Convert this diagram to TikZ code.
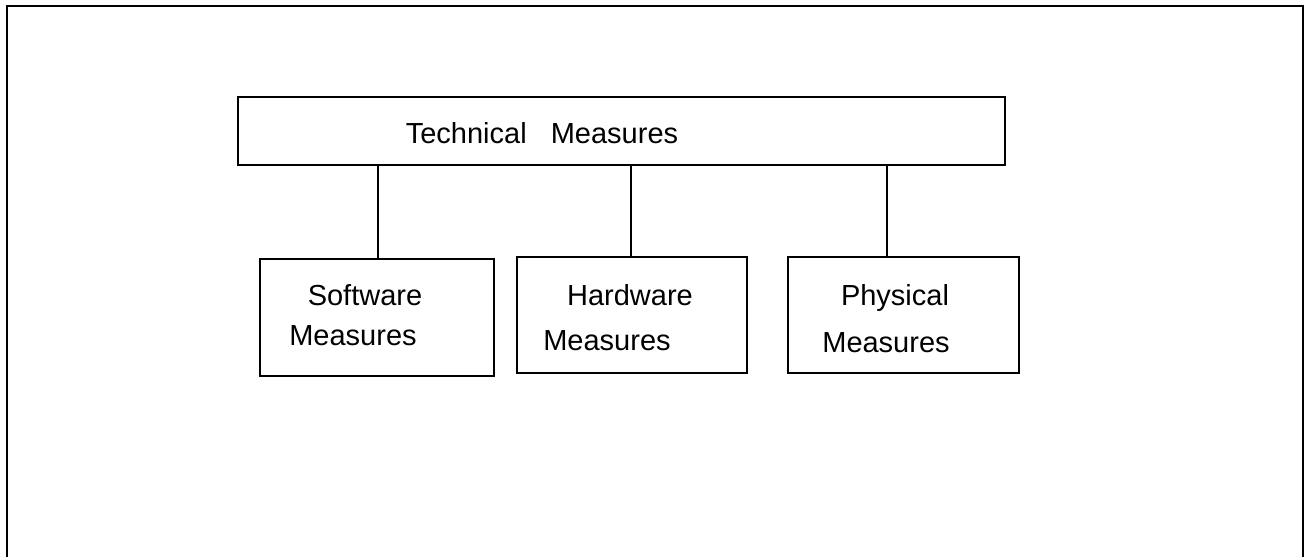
\documentclass[tikz,border=0pt]{standalone}
\usepackage{fontspec}
\setmainfont{Liberation Sans}
\begin{document}
\begin{tikzpicture}[x=1pt,y=-1pt,
  boxnode/.style={draw=black,line width=1.6pt,rectangle,inner sep=0pt,anchor=north west},
  lbl/.style={inner sep=0pt,font=\fontsize{29}{34}\selectfont,anchor=base},
  link/.style={draw=black,line width=1.6pt}]
\useasboundingbox (0,0) rectangle (1310,557);
% outer frame (no bottom edge)
\draw[line width=2.4pt] (7,570) -- (7,6) -- (1303,6) -- (1303,570);
% boxes
\node[boxnode,minimum width=767pt,minimum height=68pt] (top) at (237,96) {};
\node[boxnode,minimum width=234pt,minimum height=117pt] (sw) at (259,258) {};
\node[boxnode,minimum width=230pt,minimum height=116pt] (hw) at (516,256) {};
\node[boxnode,minimum width=231pt,minimum height=116pt] (ph) at (787,256) {};
% texts
\node[lbl] (t1) at (542,143) {Technical\ \ \ Measures};
\node[lbl] (s1) at (365,305) {Software};
\node[lbl] (s2) at (353,345) {Measures};
\node[lbl] (h1) at (630,305) {Hardware};
\node[lbl] (h2) at (607,350) {Measures};
\node[lbl] (p1) at (895,305) {Physical};
\node[lbl] (p2) at (886,352) {Measures};
% connectors
\coordinate (c1) at (378,0);
\coordinate (c2) at (631,0);
\coordinate (c3) at (887,0);
\draw[link] (c1 |- top.south) -- (c1 |- sw.north);
\draw[link] (c2 |- top.south) -- (c2 |- hw.north);
\draw[link] (c3 |- top.south) -- (c3 |- ph.north);
\end{tikzpicture}
\end{document}
